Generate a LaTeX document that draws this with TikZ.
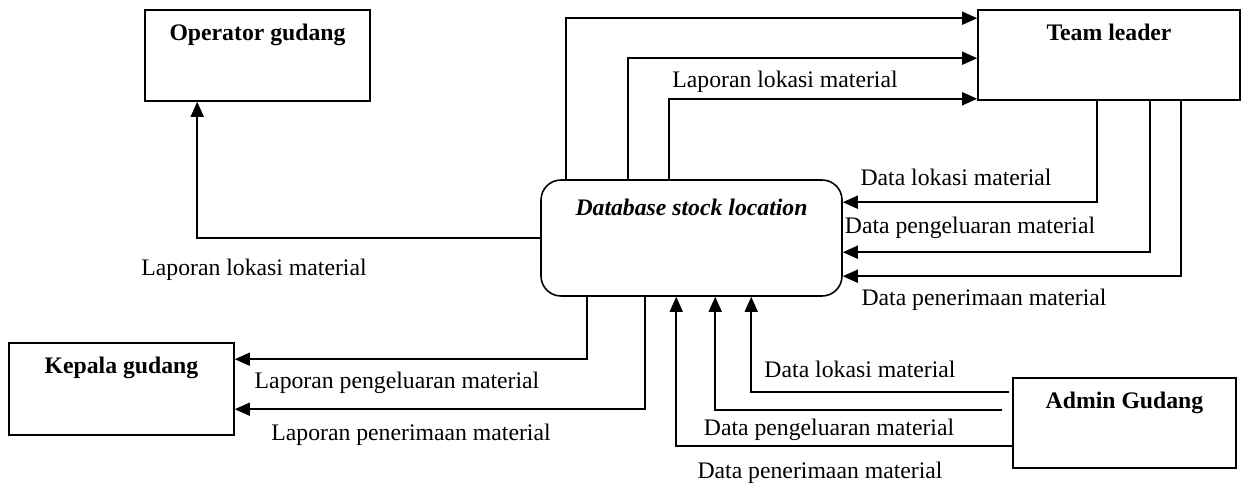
\documentclass[tikz,border=0pt]{standalone}
\usepackage{fontspec}
\setmainfont{Liberation Serif}
\usetikzlibrary{arrows.meta,calc}
\newcommand{\dfdfont}{\fontsize{13.5pt}{16pt}\selectfont}
\tikzset{
  entity/.style={draw,line width=0.9pt,minimum width=4.5cm,minimum height=1.82cm,
    inner sep=0pt,label={[font=\dfdfont\bfseries,anchor=north,yshift=-0.17cm]north:#1}},
  store/.style={draw,line width=0.9pt,rounded corners=0.4cm,minimum width=6.02cm,
    minimum height=2.32cm,inner sep=0pt,
    label={[font=\dfdfont\bfseries\itshape,anchor=north,yshift=-0.27cm]north:#1}},
  flow/.style={-{Triangle[length=0.3cm,width=0.26cm]},line width=0.9pt},
  flowlabel/.style={inner sep=1pt}
}

\begin{document}
\begin{tikzpicture}[font=\dfdfont]
\useasboundingbox (0,0) rectangle (24.86,9.72);

% Entities and the data store
\node[entity=Operator gudang] (op) at (5.15,8.61) {};
\node[entity=Team leader,minimum width=5.24cm,minimum height=1.8cm] (tl) at (22.18,8.62) {};
\node[entity=Kepala gudang,minimum height=1.84cm] (kg) at (2.43,1.94) {};
\node[entity=Admin Gudang,minimum width=4.46cm,minimum height=1.8cm] (ag) at (22.49,1.26) {};
\node[store=Database stock location] (db) at (13.83,4.96) {};

% Database -> Operator gudang
\draw[flow] (db.west) -| ($(op.south west)+(1.06,0)$);
\node[flowlabel] (lblOp) at (5.08,4.32) {Laporan lokasi material};

% Database -> Team leader
\draw[flow] ($(db.north west)+(0.52,0)$) |- ($(tl.north west)+(0,-0.18)$);
\draw[flow] ($(db.north west)+(1.76,0)$) |- ($(tl.north west)+(0,-0.98)$);
\draw[flow] ($(db.north west)+(2.58,0)$) |- ($(tl.south west)+(0,0.04)$);
\node[flowlabel] (lblTl) at (15.7,8.08) {Laporan lokasi material};

% Team leader -> Database
\draw[flow] ($(tl.south west)+(2.4,0)$) |- ($(db.north east)+(0,-0.46)$);
\draw[flow] ($(tl.south west)+(3.46,0)$) |- ($(db.north east)+(0,-1.46)$);
\draw[flow] ($(tl.south west)+(4.08,0)$) |- ($(db.north east)+(0,-1.94)$);
\node[flowlabel] (lblTlLok) at (19.12,6.18) {Data lokasi material};
\node[flowlabel] (lblTlOut) at (19.4,5.16) {Data pengeluaran material};
\node[flowlabel] (lblTlIn) at (19.68,3.72) {Data penerimaan material};

% Database -> Kepala gudang
\draw[flow] ($(db.south west)+(0.94,0)$) |- ($(kg.north east)+(0,-0.34)$);
\draw[flow] ($(db.south west)+(2.1,0)$) |- ($(kg.north east)+(0,-1.34)$);
\node[flowlabel] (lblKgOut) at (7.94,2.06) {Laporan pengeluaran material};
\node[flowlabel] (lblKgIn) at (8.22,1.02) {Laporan penerimaan material};

% Admin Gudang -> Database
\draw[flow,shorten <=0.06cm] ($(ag.north west)+(0,-0.3)$) -| ($(db.south west)+(4.22,0)$);
\draw[flow,shorten <=0.2cm] ($(ag.north west)+(0,-0.66)$) -| ($(db.south west)+(3.5,0)$);
\draw[flow] ($(ag.north west)+(0,-1.38)$) -| ($(db.south west)+(2.72,0)$);
\node[flowlabel] (lblAgLok) at (17.2,2.34) {Data lokasi material};
\node[flowlabel] (lblAgOut) at (16.58,1.12) {Data pengeluaran material};
\node[flowlabel] (lblAgIn) at (16.4,0.26) {Data penerimaan material};
\end{tikzpicture}
\end{document}
